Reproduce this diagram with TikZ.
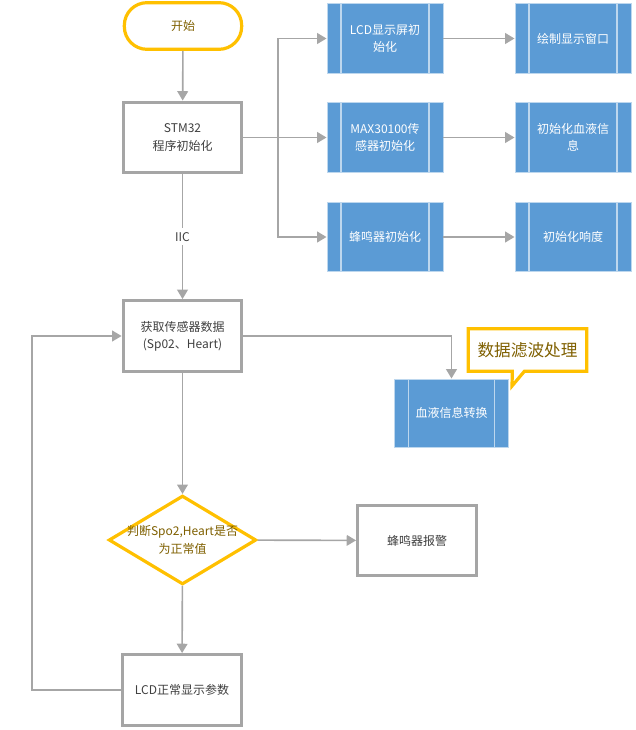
\documentclass[tikz,border=0pt]{standalone}
\usepackage{fontspec}
\setmainfont{Noto Sans CJK SC}
\usepackage{tikz}
\usetikzlibrary{arrows.meta,shapes.geometric,shapes.callouts}

\definecolor{lineg}{HTML}{A6A6A6}
\definecolor{boxg}{HTML}{A5A5A5}
\definecolor{textg}{HTML}{404040}
\definecolor{orng}{HTML}{FFC000}
\definecolor{olive}{HTML}{7F6000}
\definecolor{bluefill}{HTML}{5B9BD5}
\definecolor{blueedge}{HTML}{BDD7EE}

\begin{document}
\begin{tikzpicture}[x=0.75pt,y=-0.75pt,
  every node/.style={font=\fontsize{9}{13}\selectfont, align=center},
  conn/.style={draw=lineg, line width=1.2pt, -{Triangle[width=8pt,length=7pt]}},
  terminal/.style={draw=orng, line width=2.4pt, fill=white, rounded corners=17pt,
    minimum width=88pt, minimum height=35pt, text=olive},
  procbox/.style={draw=boxg, line width=2.4pt, fill=white, text=textg,
    minimum width=89pt, minimum height=53pt},
  predef/.style={draw=blueedge, line width=0.7pt, fill=bluefill, text=white,
    minimum width=87pt, minimum height=52pt,
    path picture={
      \draw[blueedge, line width=0.8pt]
        ([xshift=10.5pt]path picture bounding box.north west) --
        ([xshift=10.5pt]path picture bounding box.south west);
      \draw[blueedge, line width=0.8pt]
        ([xshift=-10.5pt]path picture bounding box.north east) --
        ([xshift=-10.5pt]path picture bounding box.south east);}},
  decision/.style={diamond, draw=orng, line width=2.4pt, fill=white, text=olive,
    aspect=1.66, inner sep=-1.5pt}]

\useasboundingbox (0,0) rectangle (635,730);

% main flow
\node[terminal] (start) at (183,26) {开始};
\node[procbox] (stm) at (182.5,137.5) {STM32\\程序初始化};
\node[procbox] (get) at (182.5,336) {获取传感器数据\\(Sp02、Heart)};
\node[decision] (judge) at (182.5,540) {判断Spo2,Heart是否\\为正常值};
\node[procbox] (alarm) at (417,540.5) {蜂鸣器报警};
\node[procbox] (show) at (182,690) {LCD正常显示参数};

% init branch
\node[predef] (lcd) at (385,38.5) {LCD显示屏初\\始化};
\node[predef] (max) at (385,137.5) {MAX30100传\\感器初始化};
\node[predef] (bz) at (385,237) {蜂鸣器初始化};
\node[predef] (win) at (573,38.5) {绘制显示窗口};
\node[predef] (blood) at (573,137.5) {初始化血液信\\息};
\node[predef] (resp) at (573,237) {初始化响度};

% data conversion
\node[predef, minimum width=86pt, minimum height=51pt] (conv) at (451.5,413) {血液信息转换};
\node[rectangle callout, draw=orng, line width=2.4pt, fill=white, text=olive,
  font=\fontsize{12.5}{15}\selectfont, minimum width=89pt, minimum height=32pt,
  callout absolute pointer={(512,386)}, callout pointer width=9pt] (filter) at (527.5,350) {数据滤波处理};

\coordinate (split) at (278,137.5);

\draw[conn] (start) -- (stm);
\draw[draw=lineg, line width=1.2pt] (stm.east) -- (split);
\draw[conn] (split) |- (lcd);
\draw[conn] (split) -- (max);
\draw[conn] (split) |- (bz);
\draw[conn] (lcd) -- (win);
\draw[conn] (max) -- (blood);
\draw[conn] (bz) -- (resp);
\draw[conn] (stm) -- node[fill=white, text=textg, inner sep=3pt] {IIC} (get);
\draw[conn] (get.east) -| (conv.north);
\draw[conn] (get) -- (judge);
\draw[conn] (judge) -- (alarm);
\draw[conn] (judge) -- (show);
\draw[conn] (show.west) -- ++(-89,0) |- (get.west);
\end{tikzpicture}
\end{document}
